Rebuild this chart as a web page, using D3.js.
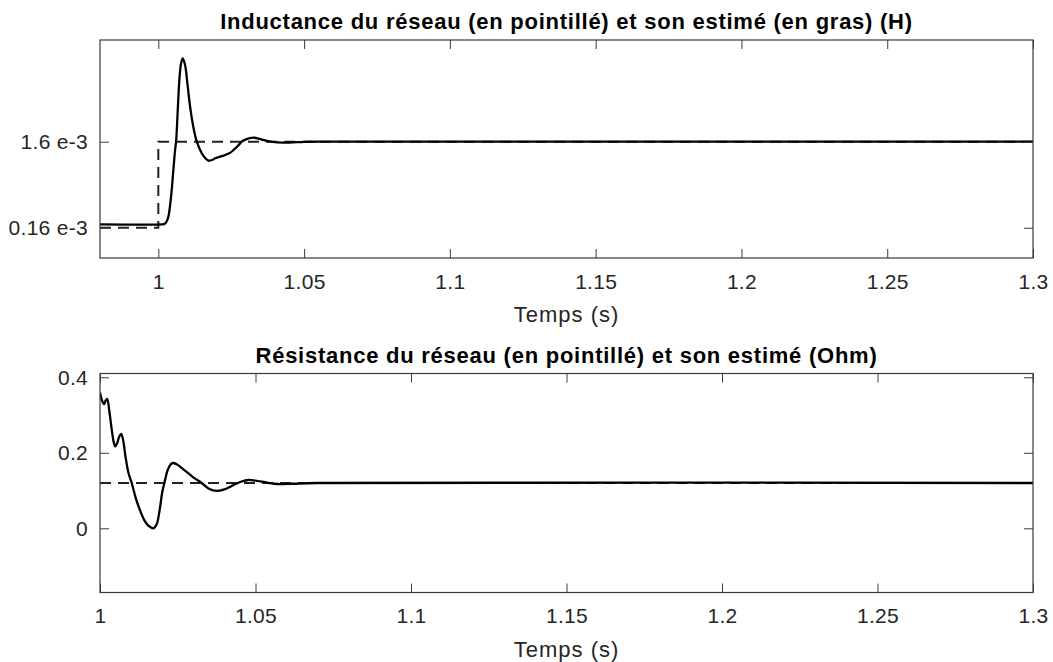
<!DOCTYPE html>
<html>
<head>
<meta charset="utf-8">
<script src="https://cdn.jsdelivr.net/npm/d3@7"></script>
<style>
  html, body { margin: 0; padding: 0; background: #fff; }
  svg { display: block; font-family: "Liberation Sans", Arial, Helvetica, sans-serif; }
</style>
</head>
<body>
<svg id="chart" width="1053" height="662"></svg>
<script>
// ---------- DATA ----------
const titleTop = "Inductance du réseau (en pointillé) et son estimé (en gras) (H)";
const titleBottom = "Résistance du réseau (en pointillé) et son estimé (Ohm)";
const xLabel = "Temps (s)";

const xTicks = [1, 1.05, 1.1, 1.15, 1.2, 1.25, 1.3];
const xTickLabels = ["1", "1.05", "1.1", "1.15", "1.2", "1.25", "1.3"];

// Inductance (H)
const indTicks = [0.16e-3, 1.6e-3];
const indTickLabels = ["0.16 e-3", "1.6 e-3"];
const indRefTime = [0.98, 1.0, 1.0, 1.3];
const indRefValue = [0.16e-3, 0.16e-3, 1.6e-3, 1.6e-3];
const indEstTime = [0.98, 1.0015, 1.0021, 1.0028, 1.00345, 1.00437, 1.00516, 1.00575, 1.0061, 1.00667, 1.00722, 1.00781, 1.00839, 1.00918, 1.00997, 1.0109, 1.0120, 1.0132, 1.0149, 1.0162, 1.0172, 1.0185, 1.0195, 1.0212, 1.0229, 1.0245, 1.0260, 1.0275, 1.0286, 1.0300, 1.0326, 1.0350, 1.0380, 1.0410, 1.0450, 1.0500, 1.0550, 1.3];
const indEstValue = [0.217e-3, 0.217e-3, 0.222e-3, 0.26e-3, 0.344e-3, 0.679e-3, 1.126e-3, 1.461e-3, 1.60e-3, 2.131e-3, 2.633e-3, 2.913e-3, 2.997e-3, 2.884e-3, 2.578e-3, 2.186e-3, 1.851e-3, 1.60e-3, 1.406e-3, 1.32e-3, 1.282e-3, 1.295e-3, 1.322e-3, 1.35e-3, 1.377e-3, 1.41e-3, 1.47e-3, 1.54e-3, 1.60e-3, 1.64e-3, 1.667e-3, 1.645e-3, 1.605e-3, 1.59e-3, 1.585e-3, 1.598e-3, 1.60e-3, 1.60e-3];

// Resistance (Ohm)
const resTicks = [0, 0.2, 0.4];
const resTickLabels = ["0", "0.2", "0.4"];
const resRefTime = [1.0, 1.3];
const resRefValue = [0.12, 0.12];
const resEstTime = [1.0000, 1.0006, 1.0013, 1.0018, 1.0023, 1.0030, 1.0038, 1.0045, 1.0049, 1.0055, 1.0062, 1.0068, 1.0074, 1.0082, 1.0092, 1.0102, 1.0115, 1.0130, 1.0145, 1.0160, 1.0172, 1.0182, 1.0192, 1.0200, 1.0207, 1.0218, 1.0228, 1.0236, 1.0250, 1.0270, 1.0300, 1.0327, 1.0350, 1.0376, 1.0400, 1.0430, 1.0455, 1.0477, 1.0500, 1.0530, 1.0560, 1.0580, 1.0620, 1.0700, 1.3];
const resEstValue = [0.36, 0.34, 0.329, 0.338, 0.343, 0.31, 0.26, 0.225, 0.217, 0.225, 0.243, 0.25, 0.235, 0.19, 0.145, 0.12, 0.08, 0.045, 0.018, 0.004, 0.0, 0.01, 0.05, 0.095, 0.12, 0.155, 0.17, 0.173, 0.168, 0.155, 0.135, 0.12, 0.105, 0.099, 0.103, 0.115, 0.124, 0.128, 0.126, 0.122, 0.118, 0.117, 0.118, 0.12, 0.12];

// ---------- LAYOUT ----------
const svg = d3.select("#chart");
const axisColor = "#3a3a3a";
const tickLen = 9;
const fontTick = 21;

function panel(cfg) {
  const { left, right, top, bottom, xDomain, yDomain, yTicks, yTickLabels, title, ref, est } = cfg;
  const x = d3.scaleLinear().domain(xDomain).range([left, right]);
  const y = d3.scaleLinear().domain(yDomain).range([bottom, top]);
  const g = svg.append("g");

  const id = "clip" + Math.round(top);
  svg.append("clipPath").attr("id", id).append("rect")
    .attr("x", left).attr("y", top).attr("width", right - left).attr("height", bottom - top);

  const line = d3.line().x(d => x(d[0])).y(d => y(d[1]));
  const lineSmooth = d3.line().x(d => x(d[0])).y(d => y(d[1])).curve(d3.curveCatmullRom.alpha(0.5));

  const plot = g.append("g").attr("clip-path", `url(#${id})`);
  plot.append("path")
    .datum(ref[0].map((t, i) => [t, ref[1][i]]))
    .attr("d", line)
    .attr("fill", "none").attr("stroke", "#222").attr("stroke-width", 2)
    .attr("stroke-dasharray", "11,7");
  plot.append("path")
    .datum(est[0].map((t, i) => [t, est[1][i]]))
    .attr("d", lineSmooth)
    .attr("fill", "none").attr("stroke", "#000").attr("stroke-width", 2.3)
    .attr("stroke-linejoin", "round");

  const xb = d3.axisBottom(x).tickValues(xTicks).tickFormat((d, i) => xTickLabels[i]).tickSizeInner(-tickLen).tickSizeOuter(0).tickPadding(16);
  const xt = d3.axisTop(x).tickValues(xTicks).tickFormat("").tickSizeInner(-tickLen).tickSizeOuter(0);
  const yl = d3.axisLeft(y).tickValues(yTicks).tickFormat((d, i) => yTickLabels[i]).tickSizeInner(-tickLen).tickSizeOuter(0).tickPadding(12);
  const yr = d3.axisRight(y).tickValues(yTicks).tickFormat("").tickSizeInner(-tickLen).tickSizeOuter(0);

  const styleAxis = sel => {
    sel.selectAll(".domain").remove();
    sel.selectAll("line").attr("stroke", axisColor).attr("stroke-width", 1);
    sel.selectAll("text").attr("fill", "#262626").attr("font-size", fontTick)
      .attr("letter-spacing", 0.3)
      .attr("font-family", "'Liberation Sans', Arial, sans-serif");
  };
  g.append("g").attr("transform", `translate(0,${bottom})`).call(xb).call(styleAxis);
  g.append("g").attr("transform", `translate(0,${top})`).call(xt).call(styleAxis);
  g.append("g").attr("transform", `translate(${left},0)`).call(yl).call(styleAxis);
  g.append("g").attr("transform", `translate(${right},0)`).call(yr).call(styleAxis);

  g.append("rect").attr("x", left).attr("y", top).attr("width", right - left).attr("height", bottom - top)
    .attr("fill", "none").attr("stroke", axisColor).attr("stroke-width", 1.2);

  g.append("text").attr("x", (left + right) / 2).attr("y", top - 11)
    .attr("text-anchor", "middle").attr("font-weight", "bold").attr("font-size", 22)
    .attr("letter-spacing", 0.75)
    .attr("fill", "#000").text(title);

  g.append("text").attr("x", (left + right) / 2).attr("y", bottom + 64)
    .attr("text-anchor", "middle").attr("font-size", 22).attr("letter-spacing", 1)
    .attr("fill", "#262626").text(xLabel);
}

panel({
  left: 100, right: 1033, top: 40, bottom: 258,
  xDomain: [0.98, 1.3], yDomain: [-0.347e-3, 3.303e-3],
  yTicks: indTicks, yTickLabels: indTickLabels,
  title: titleTop,
  ref: [indRefTime, indRefValue], est: [indEstTime, indEstValue]
});
panel({
  left: 100, right: 1033, top: 373.5, bottom: 592.5,
  xDomain: [1.0, 1.3], yDomain: [-0.17, 0.41],
  yTicks: resTicks, yTickLabels: resTickLabels,
  title: titleBottom,
  ref: [resRefTime, resRefValue], est: [resEstTime, resEstValue]
});
</script>
</body>
</html>
